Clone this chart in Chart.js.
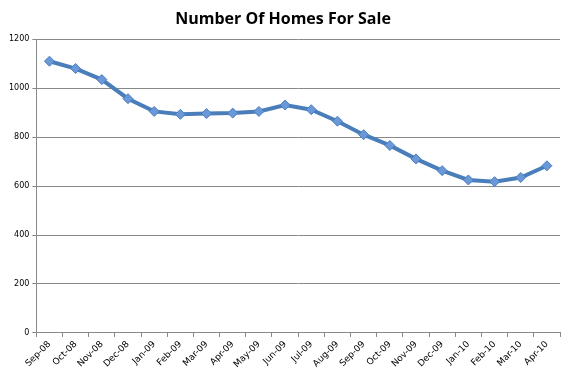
<!DOCTYPE html>
<html><head><meta charset="utf-8">
<script src="https://cdn.jsdelivr.net/npm/chart.js@4/dist/chart.umd.min.js"></script>
<style>html,body{margin:0;padding:0;background:#fff}#w{width:570px;height:377px}</style>
</head><body><div id="w"><canvas id="c"></canvas></div>
<script>
const categories = ["Sep-08","Oct-08","Nov-08","Dec-08","Jan-09","Feb-09","Mar-09","Apr-09","May-09","Jun-09","Jul-09","Aug-09","Sep-09","Oct-09","Nov-09","Dec-09","Jan-10","Feb-10","Mar-10","Apr-10"];
const homesForSale = [1110,1080,1035,957,905,893,896,898,905,931,912,865,810,766,711,663,625,618,635,683];
const yTicks = [0,200,400,600,800,1000,1200];

new Chart(document.getElementById('c'), {
  type: 'line',
  data: {
    labels: categories,
    datasets: [{
      label: 'Number Of Homes For Sale',
      data: homesForSale,
      borderColor: '#4a7ebb',
      borderWidth: 4,
      pointStyle: 'rectRot',
      pointRadius: 5,
      pointBackgroundColor: '#6b98d9',
      pointBorderColor: '#4a7ebb',
      pointBorderWidth: 1,
      tension: 0
    }]
  },
  options: {
    responsive: true, maintainAspectRatio: false, animation: false,
    layout: { padding: { left: 6, right: 10, top: 4, bottom: 5 } },
    plugins: {
      legend: { display: false },
      tooltip: { enabled: false },
      title: { display: true, text: 'Number Of Homes For Sale', color: '#000',
        font: { family: 'Open Sans', size: 16, weight: 'bold' }, padding: { top: 6, bottom: 10 } }
    },
    scales: {
      x: {
        offset: true,
        grid: { drawOnChartArea: false, drawTicks: true, tickLength: 4, color: '#888', offset: true },
        border: { color: '#888', width: 1 },
        ticks: { color: '#000', font: { family: 'DejaVu Sans', size: 9 }, minRotation: 45, maxRotation: 45, autoSkip: false, padding: 2 }
      },
      y: {
        min: 0, max: 1200,
        afterBuildTicks: s => { s.ticks = yTicks.map(v => ({ value: v })); },
        grid: { color: '#888', lineWidth: 1, tickLength: 4 },
        border: { color: '#888', width: 1 },
        ticks: { color: '#000', font: { family: 'DejaVu Sans', size: 8 }, padding: 3, callback: v => String(v) }
      }
    }
  }
});
</script></body></html>
